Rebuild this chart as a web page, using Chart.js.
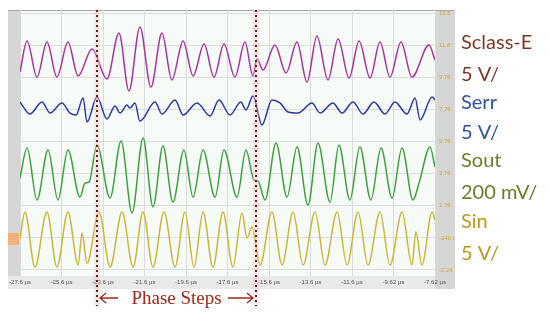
<!DOCTYPE html>
<html>
<head>
<meta charset="utf-8">
<script src="https://cdn.jsdelivr.net/npm/chart.js@4"></script>
<style>
  html, body { margin: 0; padding: 0; background: #ffffff; }
  #wrap { width: 550px; height: 320px; position: relative; }
</style>
</head>
<body>
<div id="wrap"><canvas id="scope"></canvas></div>
<script>
// Time axis (µs) and scope tick labels
const xTickValues = [-27.6, -25.6, -23.6, -21.6, -19.6, -17.6, -15.6, -13.6, -11.6, -9.6, -7.6];
const xTickLabels = ['-27.6 µs', '-25.6 µs', '-23.6 µs', '-21.6 µs', '-19.6 µs', '-17.6 µs',
                     '-15.6 µs', '-13.6 µs', '-11.6 µs', '-9.62 µs', '-7.62 µs'];
const yTickValues = [-2.24, -0.24, 1.76, 3.76, 5.76, 7.76, 9.76, 11.76, 13.76];
const yTickLabels = ['-2.24', '-240 m', '1.76', '3.76', '5.76', '7.76', '9.76', '11.8', '13.8'];

// Phase step instants (µs)
const phaseSteps = [-23.89, -16.23];

// Sclass-E trace (magenta)
const sclassT = [-27.6, -27.26, -26.78, -26.30, -25.82, -25.29, -24.80, -24.13, -23.41, -22.83, -22.35,
                 -21.82, -21.29, -20.76, -20.28, -19.74, -19.26, -18.73, -18.25, -17.77, -17.24, -16.76,
                 -16.37, -16.18, -15.89, -15.31, -14.78, -14.25, -13.77, -13.29, -12.76, -12.27, -11.74,
                 -11.26, -10.73, -10.25, -9.77, -9.24, -8.71, -7.89, -7.6];
const sclassV = [10.09, 12.02, 9.77, 11.95, 9.77, 11.95, 9.84, 11.52, 9.65, 12.51, 8.90,
                 12.89, 9.15, 12.51, 9.59, 12.02, 9.84, 11.83, 9.77, 11.83, 9.77, 11.95,
                 9.84, 10.90, 10.21, 11.77, 10.02, 11.95, 9.46, 12.33, 9.59, 12.14, 9.71,
                 12.02, 9.71, 11.95, 9.77, 11.95, 9.77, 11.77, 10.83];

// Serr trace (blue)
const serrT = [-27.6, -27.12, -26.54, -26.15, -25.58, -25.19, -24.90, -24.56, -24.37, -23.89, -23.41,
               -23.02, -22.78, -22.44, -22.30, -22.06, -21.82, -21.09, -20.76, -20.13, -19.74, -19.07,
               -18.44, -18.01, -17.48, -16.96, -16.71, -16.37, -15.94, -15.46, -15.07, -14.68, -14.20,
               -13.53, -13.14, -12.52, -12.08, -11.55, -11.07, -10.54, -10.01, -9.53, -8.95, -8.56,
               -8.32, -7.74, -7.6];
const serrV = [8.22, 7.47, 8.22, 7.53, 8.16, 7.53, 7.41, 8.47, 6.97, 8.53, 7.16,
               7.97, 7.53, 8.03, 7.84, 8.16, 7.03, 8.22, 7.47, 8.34, 7.41, 8.16,
               7.35, 8.34, 7.41, 8.22, 7.72, 8.59, 6.79, 8.34, 8.16, 7.60, 7.53,
               8.16, 7.53, 8.16, 7.53, 8.22, 7.47, 8.22, 7.47, 8.22, 7.47, 8.47,
               7.10, 8.53, 8.34];

// Sout trace (green)
const soutT = [-27.6, -27.26, -26.78, -26.25, -25.77, -25.29, -24.71, -24.47, -24.27, -23.89, -23.26,
               -22.73, -22.20, -21.67, -21.19, -20.71, -20.23, -19.70, -19.26, -18.78, -18.20, -17.77,
               -17.14, -16.71, -16.32, -16.13, -15.79, -15.26, -14.73, -14.25, -13.72, -13.24, -12.66,
               -12.23, -11.70, -11.22, -10.69, -10.20, -9.67, -9.19, -8.66, -8.37, -7.84, -7.6];
const soutV = [3.49, 5.35, 2.12, 5.23, 2.12, 5.23, 2.30, 3.17, 3.24, 5.54, 2.24,
               5.79, 1.31, 5.98, 1.68, 5.48, 1.99, 5.23, 2.30, 5.23, 2.30, 5.23,
               2.30, 5.23, 3.36, 3.30, 2.12, 5.66, 2.30, 5.42, 1.80, 5.66, 1.99,
               5.54, 2.12, 5.42, 2.12, 5.35, 2.24, 5.35, 2.12, 3.17, 5.42, 4.17];

// Sin trace (yellow)
const sinT = [-27.6, -27.36, -26.88, -26.30, -25.82, -25.29, -24.80, -24.61, -24.37, -23.79, -23.26,
              -22.68, -22.15, -21.67, -21.19, -20.66, -20.13, -19.65, -19.21, -18.78, -18.30, -17.82,
              -17.34, -16.90, -16.66, -16.42, -16.03, -15.46, -14.97, -14.44, -13.96, -13.38, -12.90,
              -12.32, -11.84, -11.31, -10.83, -10.25, -9.77, -9.19, -8.71, -8.52, -8.23, -7.74, -7.6];
const sinV = [-0.25, 1.37, -2.06, 1.37, -2.06, 1.37, -1.93, 0.06, -1.81, 1.37, -2.06,
              1.37, -2.06, 1.37, -2.06, 1.37, -2.06, 1.37, -2.06, 1.37, -2.06, 1.37,
              -2.06, 1.31, -0.25, 0.43, -1.93, 1.37, -1.93, 1.37, -1.93, 1.37, -1.93,
              1.37, -1.93, 1.37, -1.93, 1.37, -1.93, 1.37, -1.93, 0.12, -1.93, 1.37, 0.87];

const traces = [
    { t: sclassT, v: sclassV, color: '#a4359e' },
    { t: serrT, v: serrV, color: '#2b3a9e' },
    { t: soutT, v: soutV, color: '#3f9e3f' },
    { t: sinT, v: sinV, color: '#c9b73a' }
];

// Channel captions on the right
const captions = [
    { text: 'Sclass-E', color: '#7b3a28', y: 43 },
    { text: '5 V/', color: '#7b3a28', y: 75 },
    { text: 'Serr', color: '#2f5597', y: 103 },
    { text: '5 V/', color: '#2f5597', y: 133 },
    { text: 'Sout', color: '#6b7c2b', y: 161 },
    { text: '200 mV/', color: '#6b7c2b', y: 193 },
    { text: 'Sin', color: '#b89a22', y: 222 },
    { text: '5 V/', color: '#b89a22', y: 254 }
];

/**
 * Scope frame: grey strips and plot background
 */
const scopeFrame = {
    id: 'scopeFrame',
    beforeDraw(chart) {
        const ctx = chart.ctx;
        const a = chart.chartArea;
        ctx.save();
        ctx.fillStyle = '#e9e9e9';
        ctx.fillRect(8, a.top, a.right + 20 - 8, a.bottom + 13 - a.top);
        ctx.fillStyle = '#d6d6d6';
        ctx.fillRect(8, a.top, a.left - 8, a.bottom - a.top);
        ctx.fillRect(a.right, a.top, 20, a.bottom + 13 - a.top);
        ctx.fillStyle = '#f7fbf8';
        ctx.fillRect(a.left, a.top, a.right - a.left, a.bottom - a.top);
        ctx.strokeStyle = '#a8a8a8';
        ctx.lineWidth = 1;
        ctx.beginPath();
        ctx.moveTo(8, a.top + 0.5);
        ctx.lineTo(a.right + 20, a.top + 0.5);
        ctx.stroke();
        // channel marker block on the left strip
        ctx.fillStyle = '#f4b07a';
        ctx.fillRect(8, 233, 11, 12);
        ctx.restore();
    }
};

/**
 * Phase step markers, captions and annotation
 */
const scopeOverlay = {
    id: 'scopeOverlay',
    afterDraw(chart) {
        const ctx = chart.ctx;
        const a = chart.chartArea;
        const xs = chart.scales.x;
        ctx.save();

        // dotted phase step lines
        const px = phaseSteps.map(t => Math.round(xs.getPixelForValue(t)));
        px.forEach(x => {
            ctx.fillStyle = 'rgba(255, 190, 200, 0.35)';
            ctx.fillRect(x - 3, a.top, 6, 306 - a.top);
            ctx.lineWidth = 2;
            ctx.strokeStyle = '#5a2410';
            ctx.setLineDash([2, 3]);
            ctx.beginPath();
            ctx.moveTo(x, a.top);
            ctx.lineTo(x, 306);
            ctx.stroke();
        });
        ctx.setLineDash([]);

        // channel captions
        ctx.font = '20px Lato, "Open Sans", sans-serif';
        ctx.textBaseline = 'middle';
        ctx.textAlign = 'left';
        captions.forEach(c => {
            ctx.fillStyle = c.color;
            ctx.fillText(c.text, 461, c.y);
        });

        // "Phase Steps" annotation with arrows
        const y = 298;
        ctx.fillStyle = '#a0281c';
        ctx.strokeStyle = '#a0281c';
        ctx.font = '19px "Liberation Serif", "DejaVu Serif", serif';
        ctx.textAlign = 'center';
        ctx.fillText('Phase Steps', (px[0] + px[1]) / 2, y + 1);
        ctx.lineWidth = 1.3;
        ctx.beginPath();
        ctx.moveTo(px[0] + 3, y);
        ctx.lineTo(px[0] + 21, y);
        ctx.moveTo(px[0] + 9, y - 5);
        ctx.lineTo(px[0] + 3, y);
        ctx.lineTo(px[0] + 9, y + 5);
        ctx.moveTo(px[1] - 28, y);
        ctx.lineTo(px[1] - 3, y);
        ctx.moveTo(px[1] - 9, y - 5);
        ctx.lineTo(px[1] - 3, y);
        ctx.lineTo(px[1] - 9, y + 5);
        ctx.stroke();

        ctx.restore();
    }
};

const ctx = document.getElementById('scope').getContext('2d');
new Chart(ctx, {
    type: 'line',
    data: {
        datasets: traces.map(tr => ({
            data: tr.t.map((t, i) => ({ x: t, y: tr.v[i] })),
            borderColor: tr.color,
            borderWidth: 1.5,
            pointRadius: 0,
            cubicInterpolationMode: 'monotone',
            fill: false
        }))
    },
    options: {
        responsive: true,
        maintainAspectRatio: false,
        animation: false,
        layout: { padding: { left: 20, right: 95, top: 10, bottom: 31 } },
        plugins: {
            legend: { display: false },
            tooltip: { enabled: false }
        },
        scales: {
            x: {
                type: 'linear',
                min: -27.6,
                max: -7.6,
                afterBuildTicks: axis => { axis.ticks = xTickValues.map(v => ({ value: v })); },
                afterFit: axis => { axis.height = 13; },
                grid: { color: '#dcdcdc', drawTicks: false },
                border: { display: false },
                ticks: {
                    autoSkip: false,
                    maxRotation: 0,
                    padding: 3,
                    color: '#555555',
                    font: { size: 6, family: 'Liberation Sans' },
                    callback: (value, index) => xTickLabels[index]
                }
            },
            y: {
                position: 'right',
                min: -2.614,
                max: 13.947,
                afterBuildTicks: axis => { axis.ticks = yTickValues.map(v => ({ value: v })); },
                afterFit: axis => { axis.width = 20; },
                grid: { color: '#dcdcdc', drawTicks: false },
                border: { display: false },
                ticks: {
                    padding: 4,
                    color: '#c9a73c',
                    font: { size: 6, family: 'Liberation Sans' },
                    callback: (value, index) => yTickLabels[index]
                }
            }
        }
    },
    plugins: [scopeFrame, scopeOverlay]
});
</script>
</body>
</html>
